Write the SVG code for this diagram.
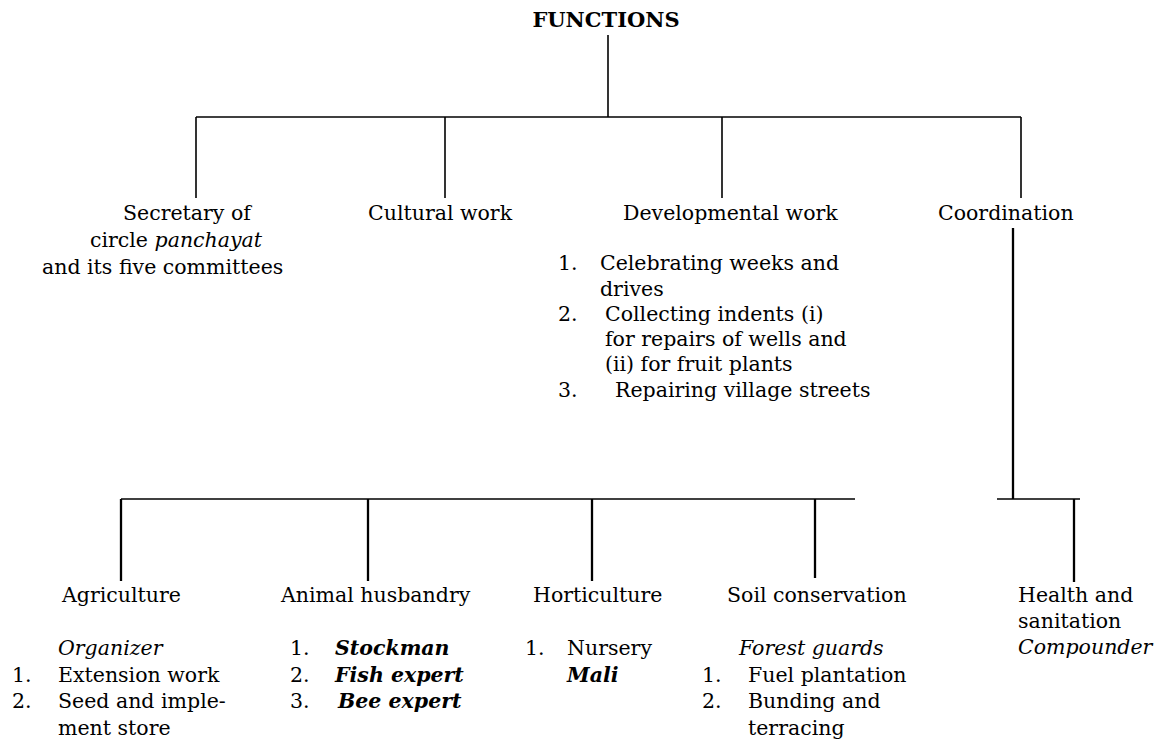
<svg xmlns="http://www.w3.org/2000/svg" width="1161" height="742" viewBox="0 0 1161 742">
<style>
text{font-family:"DejaVu Serif","Liberation Serif",serif;font-size:20.5px;fill:#000}
.t{font-weight:bold;font-size:21px}
.i{font-style:italic}
.bi{font-style:italic;font-weight:bold}
.c line{stroke:#000;stroke-width:1.6}
.c line.k{stroke-width:2.3}
</style>
<rect width="1161" height="742" fill="#fff"/>
<g class="c" id="connectors">
<line x1="608" y1="35" x2="608" y2="117"/>
<line x1="196" y1="117" x2="1021" y2="117"/>
<line x1="196" y1="117" x2="196" y2="198"/>
<line x1="445" y1="117" x2="445" y2="198"/>
<line x1="722" y1="117" x2="722" y2="198"/>
<line x1="1021" y1="117" x2="1021" y2="198"/>
<line class="k" x1="1013" y1="228" x2="1013" y2="499"/>
<line x1="121" y1="499" x2="855" y2="499"/>
<line x1="997" y1="499" x2="1080" y2="499"/>
<line class="k" x1="121" y1="499" x2="121" y2="581"/>
<line class="k" x1="368" y1="499" x2="368" y2="581"/>
<line class="k" x1="592" y1="499" x2="592" y2="581"/>
<line class="k" x1="815" y1="499" x2="815" y2="578"/>
<line class="k" x1="1074" y1="499" x2="1074" y2="582"/>
</g>
<g id="functions"><text class="t" x="606" y="27" text-anchor="middle">FUNCTIONS</text></g>
<g id="secretary">
<text x="123" y="220">Secretary of</text>
<text x="90" y="247">circle <tspan class="i">panchayat</tspan></text>
<text x="42" y="274">and its five committees</text>
</g>
<g id="cultural"><text x="368" y="220">Cultural work</text></g>
<g id="developmental">
<text x="623" y="220">Developmental work</text>
<text x="558" y="270">1.</text><text x="600" y="270">Celebrating weeks and</text>
<text x="600" y="296">drives</text>
<text x="558" y="321">2.</text><text x="605" y="321">Collecting indents (i)</text>
<text x="605" y="346">for repairs of wells and</text>
<text x="605" y="371">(ii) for fruit plants</text>
<text x="558" y="397">3.</text><text x="615" y="397">Repairing village streets</text>
</g>
<g id="coordination"><text x="938" y="220">Coordination</text></g>
<g id="agriculture">
<text x="62" y="602">Agriculture</text>
<text class="i" x="58" y="655">Organizer</text>
<text x="12" y="682">1.</text><text x="58" y="682">Extension work</text>
<text x="12" y="708">2.</text><text x="58" y="708">Seed and imple-</text>
<text x="58" y="735">ment store</text>
</g>
<g id="animal">
<text x="281" y="602">Animal husbandry</text>
<text x="290" y="655">1.</text><text class="bi" x="335" y="655">Stockman</text>
<text x="290" y="682">2.</text><text class="bi" x="335" y="682">Fish expert</text>
<text x="290" y="708">3.</text><text class="bi" x="338" y="708">Bee expert</text>
</g>
<g id="horticulture">
<text x="533" y="602">Horticulture</text>
<text x="525" y="655">1.</text><text x="567" y="655">Nursery</text>
<text class="bi" x="567" y="682">Mali</text>
</g>
<g id="soil">
<text x="727" y="602">Soil conservation</text>
<text class="i" x="739" y="655">Forest guards</text>
<text x="702" y="682">1.</text><text x="748" y="682">Fuel plantation</text>
<text x="702" y="708">2.</text><text x="748" y="708">Bunding and</text>
<text x="748" y="735">terracing</text>
</g>
<g id="health">
<text x="1018" y="602">Health and</text>
<text x="1018" y="628">sanitation</text>
<text class="i" x="1018" y="654">Compounder</text>
</g>
</svg>
